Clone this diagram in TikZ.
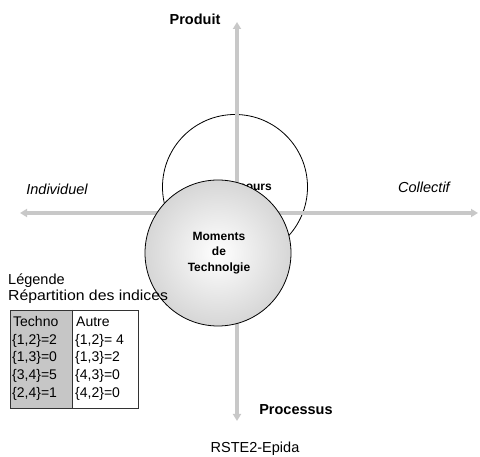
\documentclass[tikz,border=0pt]{standalone}
\usepackage{fontspec}
\usepackage{graphicx}
\setmainfont{Liberation Sans}
\usetikzlibrary{arrows.meta}
\definecolor{axisgray}{HTML}{C8C8C8}
\definecolor{cellgray}{HTML}{C6C6C6}
\tikzset{
  axis/.style={draw=axisgray,line width=3.5pt,-{Triangle[length=7pt,width=8pt]}},
  lbl/.style={inner sep=0pt,font=\fontsize{14.5}{16}\selectfont},
  blbl/.style={lbl,font=\fontsize{14.5}{16}\selectfont\bfseries},
  ilbl/.style={lbl,font=\fontsize{14.5}{16}\selectfont\itshape},
  ctext/.style={inner sep=0pt,font=\fontsize{12}{15.5}\selectfont\bfseries,align=center},
  cell/.style={inner sep=0pt,anchor=base west,font=\fontsize{14}{16}\selectfont},
}
\begin{document}
\begin{tikzpicture}[x=1pt,y=-1pt]
\useasboundingbox (0,0) rectangle (480,457);
% upper circle
\node[ctext,anchor=east] (hid) at (272,186) {Discours};
\draw[black,line width=0.8pt] (235,187) circle[radius=72.5];
% axes
\coordinate (c) at (237,213);
\coordinate (top) at (237,22);
\coordinate (bot) at (237,421);
\coordinate (lft) at (20,213);
\coordinate (rgt) at (478,213);
\draw[axis] (c) -- (top);
\draw[axis] (c) -- (bot);
\draw[axis] (c) -- (lft);
\draw[axis] (c) -- (rgt);
% lower circle
\shade[inner color=white,outer color=gray!32,draw=black,line width=0.8pt] (218,253) circle[radius=73];
\node[ctext] (mom) at (219,253) {Moments\\de\\Technolgie};
% labels
\node[blbl] (prod) at (195,19) {Produit};
\node[blbl] (proc) at (296,410) {Processus};
\node[ilbl] (ind) at (57,189) {Individuel};
\node[ilbl] (col) at (424,187) {Collectif};
\node[lbl] (src) at (255,449) {RSTE2-Epida};
\node[lbl,anchor=base west] (leg) at (8,285) {Légende};
\node[lbl,anchor=base west] (rep) at (8,301) {\scalebox{1.09}[1]{Répartition des indices}};
% table
\fill[cellgray] (10,310) rectangle (72,408);
\draw[black!80,line width=0.8pt] (10,310) rectangle (138,408);
\draw[black!80,line width=0.8pt] (72,310) -- (72,408);
\node[cell] (t0) at (13,327) {Techno};
\node[cell] (t1) at (12,344.5) {\{1,2\}=2};
\node[cell] (t2) at (12,362) {\{1,3\}=0};
\node[cell] (t3) at (12,380) {\{3,4\}=5};
\node[cell] (t4) at (12,398) {\{2,4\}=1};
\node[cell] (a0) at (76,327) {Autre};
\node[cell] (a1) at (75,344.5) {\{1,2\}= 4};
\node[cell] (a2) at (75,362) {\{1,3\}=2};
\node[cell] (a3) at (75,380) {\{4,3\}=0};
\node[cell] (a4) at (75,398) {\{4,2\}=0};
\end{tikzpicture}
\end{document}
